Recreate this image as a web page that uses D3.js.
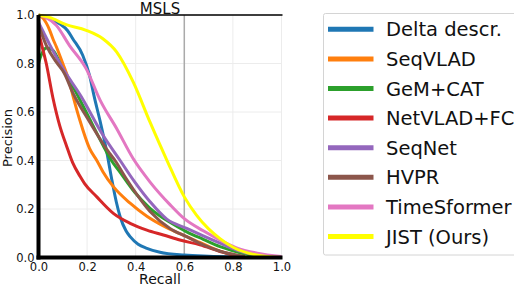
<!DOCTYPE html>
<html>
<head>
<meta charset="utf-8">
<script src="https://cdn.jsdelivr.net/npm/d3@7"></script>
<style>
  body { margin:0; background:#fff; }
  text { font-family:"DejaVu Sans", sans-serif; fill:#111; }
</style>
</head>
<body>
<div class="chart"></div>
<script>
// precision / recall points: [recall, precision]
var deltaDescr = [[0,1.0],[0.03,0.99],[0.087,0.964],[0.12,0.935],[0.141,0.902],[0.182,0.834],[0.21,0.751],[0.23,0.66],[0.254,0.56],[0.28,0.44],[0.3,0.33],[0.32,0.23],[0.336,0.168],[0.36,0.11],[0.377,0.086],[0.41,0.055],[0.446,0.038],[0.5,0.022],[0.6,0.01],[0.7,0.005],[0.8,0.002]];
var seqVLAD = [[0,1.0],[0.02,0.985],[0.045,0.94],[0.06,0.9],[0.073,0.87],[0.1,0.8],[0.127,0.724],[0.141,0.67],[0.169,0.57],[0.21,0.45],[0.24,0.4],[0.265,0.354],[0.308,0.292],[0.377,0.224],[0.446,0.17],[0.514,0.13],[0.582,0.098],[0.664,0.062],[0.747,0.026],[0.85,0.002]];
var gemCat = [[0,0.80],[0.011,0.834],[0.032,0.864],[0.059,0.855],[0.1,0.775],[0.155,0.68],[0.196,0.6],[0.265,0.464],[0.3,0.4],[0.333,0.355],[0.395,0.27],[0.459,0.203],[0.541,0.145],[0.61,0.106],[0.678,0.075],[0.747,0.045],[0.815,0.024],[0.88,0.008],[0.92,0.0]];
var netVLADFC = [[0,0.93],[0.015,0.87],[0.032,0.8],[0.059,0.66],[0.087,0.545],[0.114,0.464],[0.141,0.39],[0.171,0.335],[0.189,0.306],[0.24,0.25],[0.308,0.182],[0.377,0.141],[0.446,0.113],[0.514,0.093],[0.582,0.072],[0.664,0.052],[0.747,0.025],[0.8,0.01],[0.85,0.0]];
var seqNet = [[0,0.97],[0.02,0.93],[0.045,0.88],[0.1,0.78],[0.175,0.665],[0.265,0.505],[0.336,0.4],[0.395,0.313],[0.459,0.23],[0.528,0.158],[0.61,0.12],[0.678,0.089],[0.747,0.059],[0.815,0.031],[0.88,0.013],[0.95,0.002]];
var hvpr = [[0,0.96],[0.032,0.875],[0.073,0.806],[0.106,0.76],[0.141,0.68],[0.21,0.56],[0.292,0.43],[0.315,0.4],[0.36,0.327],[0.459,0.19],[0.541,0.12],[0.61,0.086],[0.678,0.052],[0.747,0.026],[0.85,0.004]];
var timeSformer = [[0,1.0],[0.03,0.99],[0.073,0.958],[0.127,0.875],[0.196,0.779],[0.254,0.648],[0.322,0.531],[0.39,0.407],[0.46,0.31],[0.541,0.218],[0.6,0.16],[0.678,0.11],[0.747,0.072],[0.815,0.04],[0.9,0.018],[1.0,0.004]];
var jist = [[0,1.0],[0.045,0.99],[0.114,0.96],[0.196,0.937],[0.265,0.902],[0.322,0.847],[0.39,0.723],[0.459,0.558],[0.528,0.402],[0.6,0.25],[0.65,0.175],[0.7,0.118],[0.747,0.078],[0.815,0.035],[0.88,0.014],[0.95,0.003],[1.0,0.0]];

var names = ["Delta descr.", "SeqVLAD", "GeM+CAT", "NetVLAD+FC", "SeqNet", "HVPR", "TimeSformer", "JIST (Ours)"];
var seriesData = [deltaDescr, seqVLAD, gemCat, netVLADFC, seqNet, hvpr, timeSformer, jist];
var colors = ["#1f77b4", "#ff7f0e", "#2ca02c", "#d62728", "#9467bd", "#8c564b", "#e377c2", "#ffff00"];
var ticks = [0, 0.2, 0.4, 0.6, 0.8, 1.0];
var markRecall = 0.6;

var values = { width:514, height:286, left:38.5, right:281.5, top:15, bottom:257.5 };

var svg = d3.select('.chart')
            .append('svg')
            .attr("width", values.width)
            .attr("height", values.height);

var x = d3.scaleLinear().domain([0, 1]).range([values.left, values.right]);
var y = d3.scaleLinear().domain([0, 1]).range([values.bottom, values.top]);

// faint grid
svg.append("g")
    .selectAll("line.gx")
    .data(ticks.slice(1))
    .enter().append("line")
    .attr("x1", function (d) { return x(d); })
    .attr("x2", function (d) { return x(d); })
    .attr("y1", values.top)
    .attr("y2", values.bottom)
    .attr("stroke", "#ececec")
    .attr("stroke-width", 1);

svg.append("g")
    .selectAll("line.gy")
    .data(ticks.slice(1))
    .enter().append("line")
    .attr("x1", values.left)
    .attr("x2", values.right)
    .attr("y1", function (d) { return y(d); })
    .attr("y2", function (d) { return y(d); })
    .attr("stroke", "#ececec")
    .attr("stroke-width", 1);

// vertical marker at recall 0.6
svg.append("line")
    .attr("x1", x(markRecall)).attr("x2", x(markRecall))
    .attr("y1", values.top).attr("y2", values.bottom)
    .attr("stroke", "#aaaaaa")
    .attr("stroke-width", 1.5);

var line = d3.line()
             .x(function (d) { return x(d[0]); })
             .y(function (d) { return y(d[1]); })
             .curve(d3.curveMonotoneX);

svg.append("g")
    .selectAll("path")
    .data(seriesData)
    .enter().append("path")
    .attr("d", line)
    .attr("fill", "none")
    .attr("stroke", function (d, i) { return colors[i]; })
    .attr("stroke-width", 3)
    .attr("stroke-linejoin", "round");

// axes
var xAxis = d3.axisBottom(x).tickValues(ticks).tickFormat(d3.format(".1f")).tickSize(0).tickPadding(5);
var yAxis = d3.axisLeft(y).tickValues(ticks).tickFormat(d3.format(".1f")).tickSize(0).tickPadding(4);

var gx = svg.append("g")
    .attr("class", "x axis")
    .attr("transform", "translate(0," + values.bottom + ")")
    .call(xAxis);
var gy = svg.append("g")
    .attr("class", "y axis")
    .attr("transform", "translate(" + values.left + ",0)")
    .call(yAxis);
gx.select(".domain").remove();
gy.select(".domain").remove();
gx.selectAll("text").style("font-size", "11.5px").style("font-family", "DejaVu Sans").attr("fill", "#111");
gy.selectAll("text").style("font-size", "11.5px").style("font-family", "DejaVu Sans").attr("fill", "#111");

// spines: thick left / bottom, thin top
svg.append("line")
    .attr("x1", values.left).attr("x2", values.right + 1)
    .attr("y1", values.top).attr("y2", values.top)
    .attr("stroke", "#000").attr("stroke-width", 1.5);
svg.append("line")
    .attr("x1", values.left).attr("x2", values.left)
    .attr("y1", values.top).attr("y2", values.bottom + 2)
    .attr("stroke", "#000").attr("stroke-width", 4);
svg.append("line")
    .attr("x1", values.left - 2).attr("x2", values.right + 1)
    .attr("y1", values.bottom).attr("y2", values.bottom)
    .attr("stroke", "#000").attr("stroke-width", 4);

// labels
svg.append("text")
    .attr("x", (values.left + values.right) / 2)
    .attr("y", 13.5)
    .style("text-anchor", "middle")
    .style("font-size", "15px")
    .text("MSLS");

svg.append("text")
    .attr("x", (values.left + values.right) / 2)
    .attr("y", 284)
    .style("text-anchor", "middle")
    .style("font-size", "14px")
    .text("Recall");

svg.append("text")
    .attr("transform", "translate(12," + 138 + ") rotate(-90)")
    .style("text-anchor", "middle")
    .style("font-size", "13px")
    .text("Precision");

// legend
var legend = svg.append("g").attr("transform", "translate(323.5,13.5)");
legend.append("rect")
    .attr("width", 200)
    .attr("height", 241.5)
    .attr("rx", 2)
    .attr("fill", "#fff")
    .attr("stroke", "#d4d4d4");

var item = legend.selectAll("g.item")
    .data(names)
    .enter().append("g")
    .attr("class", "item")
    .attr("transform", function (d, i) { return "translate(0," + (15.8 + i * 29.6) + ")"; });

item.append("line")
    .attr("x1", 4.5).attr("x2", 50)
    .attr("stroke", function (d, i) { return colors[i]; })
    .attr("stroke-width", 5);

item.append("text")
    .attr("x", 62.5)
    .attr("dy", "0.36em")
    .style("font-size", "19.5px")
    .text(function (d) { return d; });
</script>
</body>
</html>
